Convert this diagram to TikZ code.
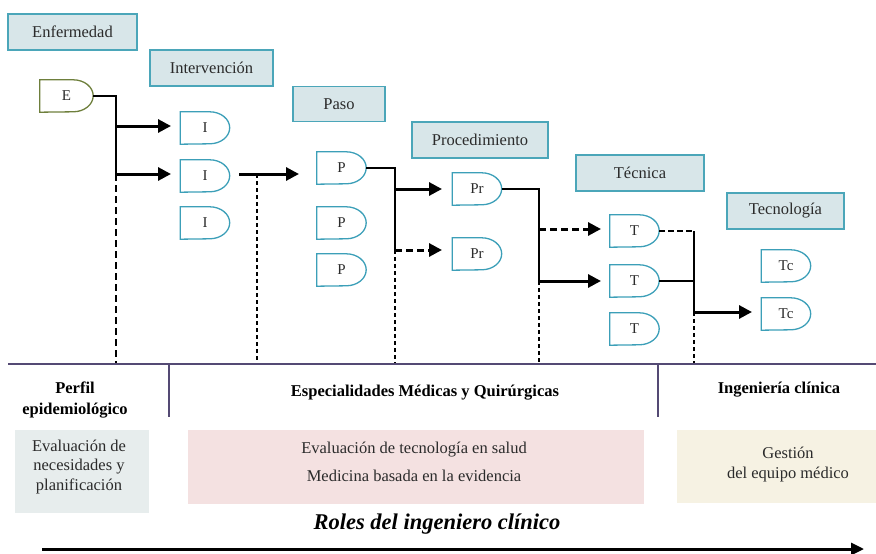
\documentclass[tikz,border=0pt]{standalone}
\usepackage{fontspec}
\setmainfont{Liberation Serif}
\usetikzlibrary{arrows.meta}

\definecolor{boxfill}{HTML}{D8E6E9}
\definecolor{boxline}{HTML}{4BA6B9}
\definecolor{gateline}{HTML}{3C9FB8}
\definecolor{eline}{HTML}{6E7F3C}
\definecolor{busline}{HTML}{544A74}
\definecolor{grayfill}{HTML}{E7EDED}
\definecolor{pinkfill}{HTML}{F4E1E1}
\definecolor{creamfill}{HTML}{F6F2E3}
\definecolor{txt}{HTML}{2B2B2B}

% gate: [node options]{name}{position}{label}{line colour}
\newcommand{\gate}[5][]{%
  \node[gatenode,#1] (#2) at (#3) {#4};
  \draw[#5, line width=1.3pt] (#2.north west) -- ([xshift=-20pt]#2.north east)
    arc[start angle=90, end angle=-90, x radius=20pt, y radius=16pt] -- (#2.south west) -- cycle;
}

\begin{document}
\begin{tikzpicture}[x=1pt, y=1pt,
  stage/.style={draw=boxline, fill=boxfill, line width=1.5pt, minimum height=36pt, inner sep=0pt, font=\fontsize{16.5}{19}\selectfont, text=txt},
  gatenode/.style={minimum width=49pt, minimum height=32pt, inner sep=0pt, font=\fontsize{15}{17}\selectfont, text=txt},
  link/.style={line width=1.3pt},
  flow/.style={line width=3pt, -{Triangle[length=13pt,width=13pt]}},
  drop/.style={line width=2.3pt, dash pattern=on 7pt off 4pt},
  bus/.style={busline, line width=2.6pt},
  role/.style={font=\fontsize{16.5}{21}\selectfont\bfseries, text=black, align=center},
  panel/.style={inner sep=0pt},
  paneltext/.style={font=\fontsize{16.5}{19.5}\selectfont, text=txt, align=center}
]
\useasboundingbox (0,0) rectangle (876,-554);

% stage headers
\node[stage, minimum width=129pt] (enf) at (72.5,-32) {Enfermedad};
\node[stage, minimum width=123pt] (inter) at (211.5,-68) {Intervención};
\node[stage, minimum width=92pt, minimum height=35pt] (paso) at (339,-104) {Paso};
\node[stage, minimum width=136pt] (proc) at (480,-140) {Procedimiento};
\node[stage, minimum width=128pt] (tecn) at (640,-173) {Técnica};
\node[stage, minimum width=117pt] (tecg) at (785.5,-211) {Tecnología};

% gates
\gate[minimum width=53pt]{E}{66.5,-96}{E}{eline}
\gate{I1}{205,-128}{I}{gateline}
\gate{I2}{205,-176}{I}{gateline}
\gate{I3}{205,-223}{I}{gateline}
\gate{P1}{341.5,-168}{P}{gateline}
\gate{P2}{341.5,-223}{P}{gateline}
\gate{P3}{341.5,-270}{P}{gateline}
\gate{Pr1}{477,-189}{Pr}{gateline}
\gate{Pr2}{477,-254}{Pr}{gateline}
\gate{T1}{634.5,-231}{T}{gateline}
\gate{T2}{634.5,-281}{T}{gateline}
\gate{T3}{634.5,-329}{T}{gateline}
\gate{Tc1}{786,-266}{Tc}{gateline}
\gate{Tc2}{786,-314}{Tc}{gateline}

% junctions
\coordinate (eA1) at (116,-126);
\coordinate (eA2) at (116,-174);
\coordinate (eBot) at (116,-364);
\coordinate (i1in) at (171,-126);
\coordinate (i2in) at (171,-174);
\coordinate (iOut) at (239,-174);
\coordinate (iD) at (257,-174);
\coordinate (iBot) at (257,-364);
\coordinate (pIn) at (299,-174);
\coordinate (pA1) at (395,-189);
\coordinate (pA2) at (395,-250);
\coordinate (pBot) at (395,-364);
\coordinate (r1in) at (442,-189);
\coordinate (r2in) at (442,-250);
\coordinate (rA1) at (539,-229);
\coordinate (rA2) at (539,-281);
\coordinate (rBot) at (539,-364);
\coordinate (t1in) at (601,-229);
\coordinate (t2in) at (601,-281);
\coordinate (tA) at (694,-312);
\coordinate (tBot) at (694,-364);
\coordinate (tcIn) at (752,-312);

% connectors
\draw[link] (E.east) -| (eA2);
\draw[flow] (eA1) -- (i1in);
\draw[flow] (eA2) -- (i2in);
\draw[drop] (eA2) -- (eBot);

\draw[flow] (iOut) -- (pIn);
\draw[drop, dash pattern=on 4pt off 3pt] (iD) -- (iBot);

\draw[link] (P1.east) -| (pA2);
\draw[flow] (pA1) -- (r1in);
\draw[flow, dash pattern=on 7pt off 4pt] (pA2) -- (r2in);
\draw[drop, dash pattern=on 4pt off 3pt] (pA2) -- (pBot);

\draw[link] (Pr1.east) -| (rA2);
\draw[flow, dash pattern=on 7pt off 4pt] (rA1) -- (t1in);
\draw[flow] (rA2) -- (t2in);
\draw[drop, dash pattern=on 4pt off 3pt] (rA2) -- (rBot);

\draw[drop, line width=2pt, dash pattern=on 6pt off 3pt] (T1.east) -- (T1.east -| tA);
\draw[link] (T2.east) -- (T2.east -| tA);
\draw[link, line width=1.6pt] (T1.east -| tA) -- (tA);
\draw[flow] (tA) -- (tcIn);
\draw[drop, dash pattern=on 4pt off 3pt] (tA) -- (tBot);

% bus and roles
\coordinate (busL) at (8,-364);
\coordinate (busR) at (876,-364);
\coordinate (div1) at (169,-364);
\coordinate (div1b) at (169,-417);
\coordinate (div2) at (658,-364);
\coordinate (div2b) at (658,-417);
\draw[bus] (busL) -- (busR);
\draw[bus] (div1) -- (div1b);
\draw[bus] (div2) -- (div2b);

\node[role] (perfil) at (75,-400) {Perfil\\epidemiológico};
\node[role] (espec) at (425,-393) {Especialidades Médicas y Quirúrgicas};
\node[role] (ingcl) at (779,-390) {Ingeniería clínica};

\node[panel, fill=grayfill, minimum width=134pt, minimum height=83pt] (needsbox) at (82,-471.5) {};
\node[panel, fill=pinkfill, minimum width=456pt, minimum height=74pt] (hta) at (416,-467) {};
\node[panel, fill=creamfill, minimum width=199pt, minimum height=73pt] (gestbox) at (776.5,-466.5) {};
\node[paneltext] (needs) at (79,-467) {Evaluación de\\necesidades y\\planificación};
\node[paneltext, font=\fontsize{16.5}{28}\selectfont] (htatxt) at (414,-462) {Evaluación de tecnología en salud\\Medicina basada en la evidencia};
\node[paneltext] (gest) at (788,-464.5) {Gestión\\del equipo médico};

\node[font=\fontsize{22.5}{26}\selectfont\bfseries\itshape] (roles) at (437,-524) {Roles del ingeniero clínico};
\coordinate (rolesL) at (42,-549);
\coordinate (rolesR) at (864,-549);
\draw[line width=3pt, -{Triangle[length=13pt,width=12pt]}] (rolesL) -- (rolesR);
\end{tikzpicture}
\end{document}
